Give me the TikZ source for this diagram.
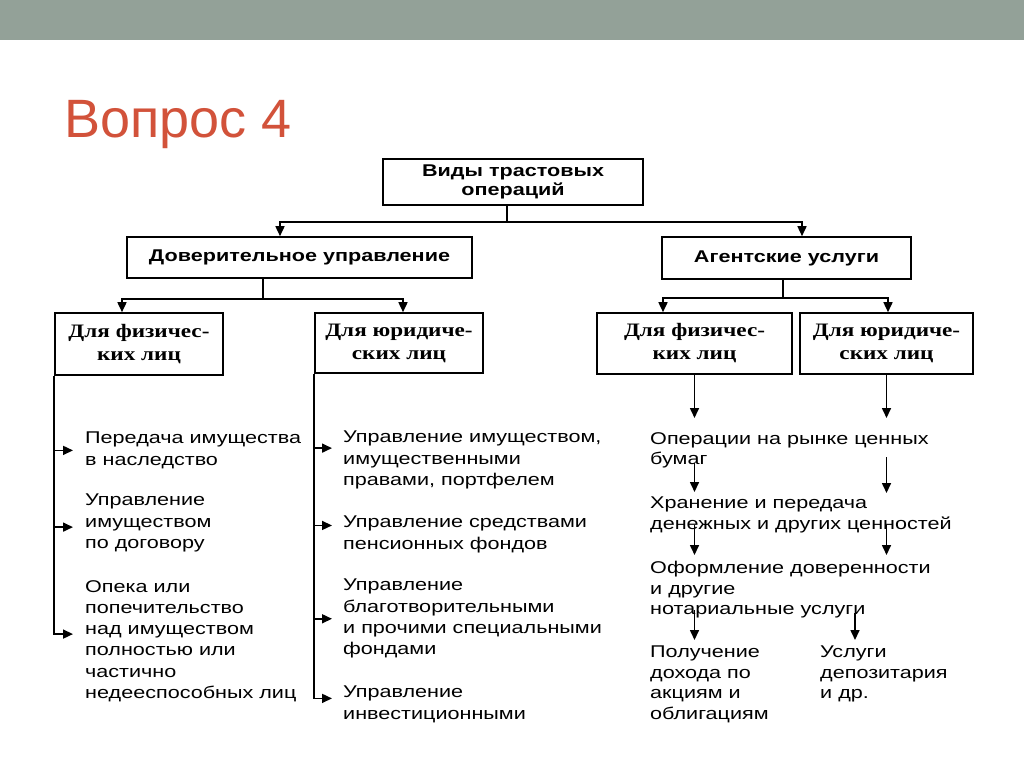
\documentclass[tikz,border=0pt]{standalone}
\usepackage{fontspec}
\setmainfont{Liberation Sans}
\newfontfamily\bodyfont[FakeStretch=1.27]{Liberation Sans}
\newfontfamily\boxfont[FakeStretch=1.22]{Liberation Serif}
\usetikzlibrary{arrows.meta}

\definecolor{band}{RGB}{147,161,152}
\definecolor{titlered}{RGB}{210,82,58}

\tikzset{
	box/.style={draw=black,line width=1.6pt,align=center,inner sep=0pt},
	headbox/.style={box,font=\bodyfont\bfseries\fontsize{17}{18.5}\selectfont},
	kindbox/.style={box,font=\boxfont\bfseries\fontsize{19}{23}\selectfont},
	item/.style={anchor=north west,align=left,inner sep=0pt,font=\bodyfont\fontsize{17}{21.3}\selectfont},
	ritem/.style={item,font=\bodyfont\fontsize{17}{20.5}\selectfont},
	arr/.style={line width=1.6pt,-{Triangle[length=10pt,width=9pt]}}
}

\begin{document}
\begin{tikzpicture}[x=1pt,y=-1pt]
	\useasboundingbox (0,0) rectangle (1024,768);
	\fill[white] (0,0) rectangle (1024,768);
	\fill[band] (0,0) rectangle (1024,40);
\node[anchor=base west,inner sep=0pt,text=titlered,font=\fontsize{54}{58}\selectfont] (title) at (64,137) {Вопрос 4};

% boxes
\node[headbox,minimum width=260pt,minimum height=46pt] (top) at (513,182) {Виды трастовых\\операций};
\node[headbox,minimum width=345pt,minimum height=41pt] (du) at (299.5,257.5) {Доверительное управление};
\node[headbox,minimum width=249pt,minimum height=42pt] (ag) at (786.5,258) {Агентские услуги};
\node[kindbox,minimum width=168pt,minimum height=62pt] (lf) at (139,344) {Для физичес-\\ких лиц};
\node[kindbox,minimum width=168pt,minimum height=60pt] (lj) at (399,343) {Для юридиче-\\ских лиц};
\node[kindbox,minimum width=195pt,minimum height=61pt] (af) at (694.5,343.5) {Для физичес-\\ких лиц};
\node[kindbox,minimum width=173pt,minimum height=61pt] (aj) at (886.5,343.5) {Для юридиче-\\ских лиц};

% left column
\node[item] (l1) at (85,432) {Передача имущества\\в наследство};
\node[item] (l2) at (85,494) {Управление\\имуществом\\по договору};
\node[item] (l3) at (85,580) {Опека или\\попечительство\\над имуществом\\полностью или\\частично\\недееспособных лиц};

% middle column
\node[item] (m1) at (343,431) {Управление имуществом,\\имущественными\\правами, портфелем};
\node[item] (m2) at (343,516) {Управление средствами\\пенсионных фондов};
\node[item] (m3) at (343,579) {Управление\\благотворительными\\и прочими специальными\\фондами};
\node[item] (m4) at (343,686) {Управление\\инвестиционными};

% right column
\node[ritem] (op) at (650,432) {Операции на рынке ценных\\бумаг};
\node[ritem] (st) at (650,497) {Хранение и передача\\денежных и других ценностей};
\node[ritem] (of) at (650,561) {Оформление доверенности\\и другие\\нотариальные услуги};
\node[ritem] (pd) at (650,646) {Получение\\дохода по\\акциям и\\облигациям};
\node[ritem] (us) at (820,646) {Услуги\\депозитария\\и др.};
\coordinate (usx) at ([xshift=35pt]us.north west);

% tree
\draw[arr] ([xshift=-6pt]top.south) -- ++(0,16) -| ([xshift=-19.5pt]du.north);
\draw[arr] ([xshift=-6pt]top.south) -- ++(0,16) -| ([xshift=15.5pt]ag.north);
\draw[arr] ([xshift=-36.5pt]du.south) -- ++(0,20) -| ([xshift=-17pt]lf.north);
\draw[arr] ([xshift=-36.5pt]du.south) -- ++(0,20) -| ([xshift=4pt]lj.north);
\draw[arr] ([xshift=-3.5pt]ag.south) -- ++(0,18) -| ([xshift=-31.5pt]af.north);
\draw[arr] ([xshift=-3.5pt]ag.south) -- ++(0,18) -| ([xshift=1.5pt]aj.north);

% brackets
\draw[arr,shorten >=12pt] (lf.south west) |- (l1.west);
\draw[arr,shorten >=12pt] (lf.south west) |- ([yshift=-4pt]l2.west);
\draw[arr,shorten >=12pt] (lf.south west) |- ([yshift=7pt]l3.west);
\draw[arr,shorten >=11pt] (lj.south west) |- ([yshift=12pt]m1.west);
\draw[arr,shorten >=11pt] (lj.south west) |- ([yshift=9pt]m2.west);
\draw[arr,shorten >=11pt] (lj.south west) |- (m3.west);
\draw[arr,shorten >=11pt] (lj.south west) |- ([yshift=6pt]m4.west);

% agent chain
\draw[arr] (af.south) -- ([yshift=14pt]op.north -| af.south);
\draw[arr] (aj.south) -- ([yshift=14pt]op.north -| aj.south);
\draw[arr] ([yshift=5pt]op.south -| af.south) -- ([yshift=5pt]st.north -| af.south);
\draw[arr] ([yshift=11pt]op.south -| aj.south) -- ([yshift=4pt]st.north -| aj.south);
\draw[arr] ([yshift=8pt]st.south -| af.south) -- ([yshift=6pt]of.north -| af.south);
\draw[arr] ([yshift=8pt]st.south -| aj.south) -- ([yshift=6pt]of.north -| aj.south);
\draw[arr] ([yshift=8pt]of.south -| af.south) -- ([yshift=6pt]pd.north -| af.south);
\draw[arr] ([yshift=5pt]of.south -| usx) -- ([yshift=6pt]usx);
\end{tikzpicture}
\end{document}
